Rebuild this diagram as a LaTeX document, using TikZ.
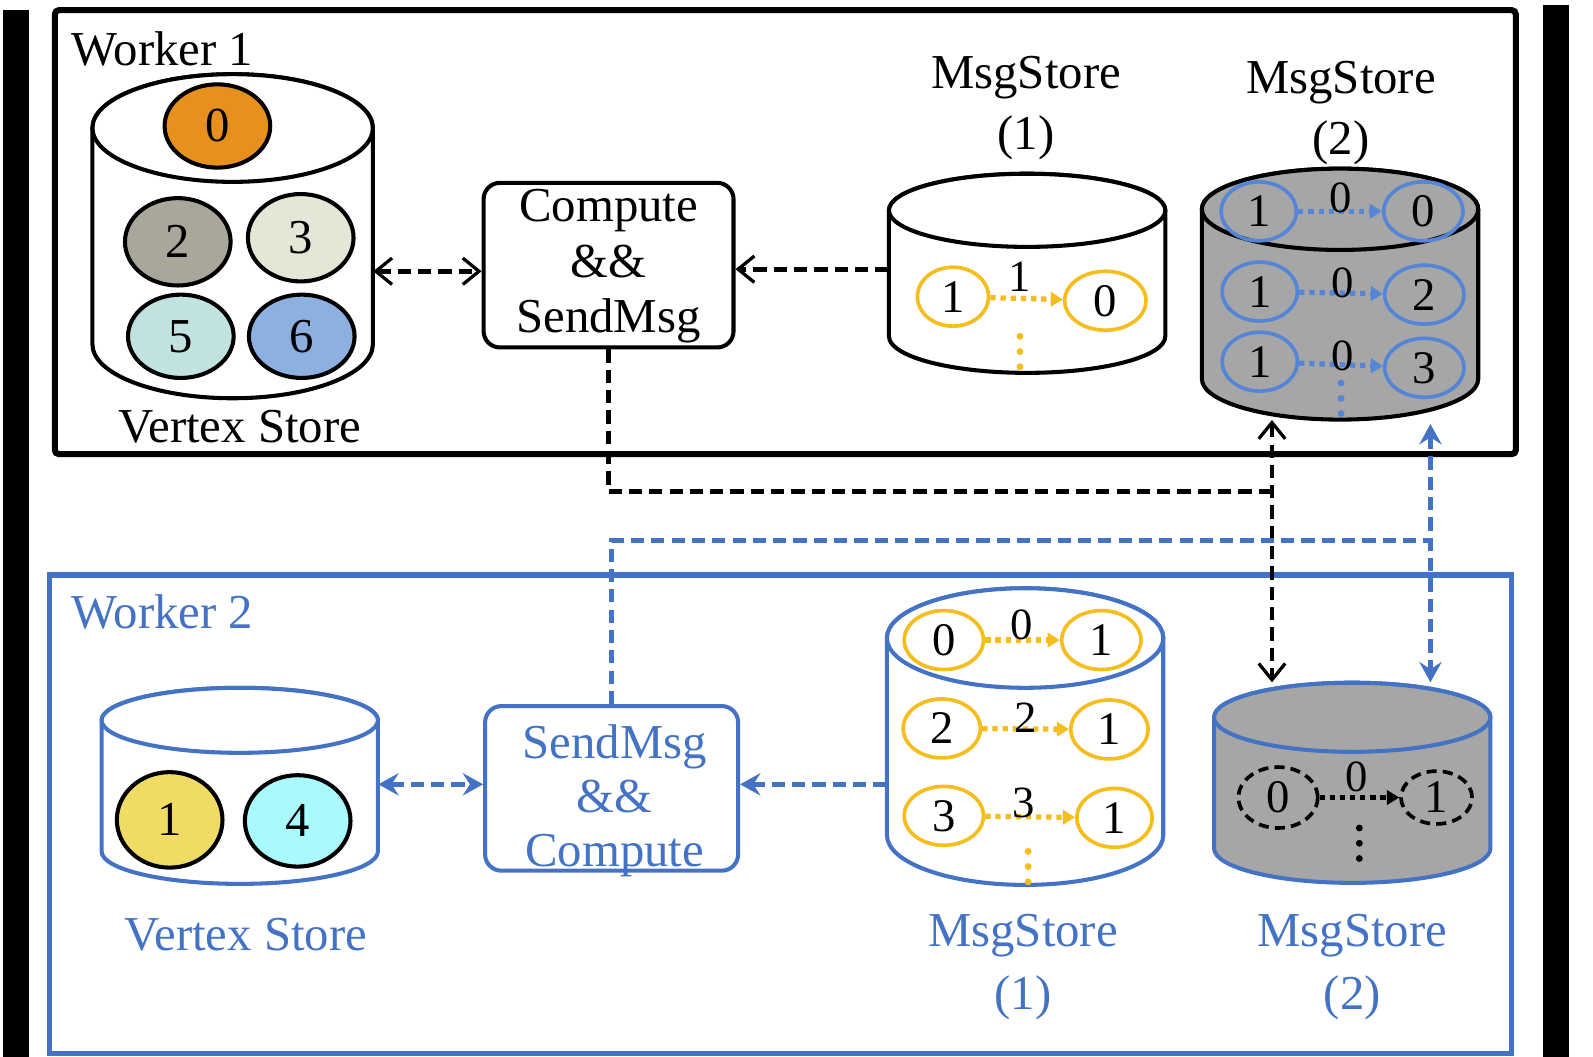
\documentclass[tikz,border=0pt]{standalone}
\usepackage{fontspec}
\setmainfont{Liberation Serif}
\usetikzlibrary{shapes.geometric,arrows.meta}
\definecolor{wblue}{HTML}{4472C4}
\definecolor{mblue}{HTML}{5585D6}
\definecolor{myel}{HTML}{F5BE1E}
\definecolor{cgrey}{HTML}{A6A6A6}
\definecolor{vorange}{HTML}{E8901E}
\definecolor{vgrey}{HTML}{A9A799}
\definecolor{vbeige}{HTML}{E6E6D6}
\definecolor{vcyan}{HTML}{C2E2E0}
\definecolor{vblue}{HTML}{8DB0E0}
\definecolor{vyel}{HTML}{F0DC64}
\definecolor{vaqua}{HTML}{A8FAFC}
\newcommand\mycyl[8]{%
  \path[fill=#7,draw=#8,line width=2pt] ({#2-#5},#3) -- ({#2-#5},#4)
    arc[start angle=180,end angle=360,x radius=#5,y radius=#6] -- ({#2+#5},#3)
    arc[start angle=0,end angle=180,x radius=#5,y radius=#6] -- cycle;
  \path[fill=#7,draw=#8,line width=2pt] (#2,#3) ellipse[x radius=#5,y radius=#6];
  \node[inner sep=0pt,minimum width={#5*1pt},minimum height={(#3-(#4)+2*#6)*0.5pt}] (#1) at (#2,{(#3+#4)/2}) {};
}
\begin{document}
\begin{tikzpicture}[x=0.5pt,y=0.5pt,
  every node/.style={font=\fontsize{24}{28}\selectfont},
  vtx/.style={ellipse,draw=black,line width=2pt,inner sep=0pt,minimum width=52pt,minimum height=41pt,font=\fontsize{24}{26}\selectfont},
  mc/.style={ellipse,line width=1.8pt,inner sep=0pt,minimum width=#1,minimum height=29pt,font=\fontsize{23}{26}\selectfont},
  mc/.default=37pt,
  lab/.style={inner sep=0pt,font=\fontsize{22}{24}\selectfont},
  box/.style={draw,rounded corners=8pt,line width=2pt,minimum width=123pt,minimum height=81pt,inner sep=0pt,align=center},
  bkdash/.style={black,line width=2.4pt,dash pattern=on 6.5pt off 3.5pt},
  bldash/.style={wblue,line width=2.4pt,dash pattern=on 6.5pt off 3.5pt},
  bktip/.style={-{Straight Barb[length=8pt,width=13pt,line width=1.6pt]}},
  bkboth/.style={{Straight Barb[length=8pt,width=13pt,line width=1.6pt]}-{Straight Barb[length=8pt,width=13pt,line width=1.6pt]}},
  bltip/.style={-{Stealth[length=10pt,width=11pt,inset=3.5pt]}},
  blboth/.style={{Stealth[length=10pt,width=11pt,inset=3.5pt]}-{Stealth[length=10pt,width=11pt,inset=3.5pt]}},
  marr/.style={line width=2.6pt,dash pattern=on 2.6pt off 2.4pt,-{Triangle[length=6pt,width=7pt]}},
  vdots/.style={line width=3.4pt,line cap=round,dash pattern=on 0pt off 7.5pt}
]
\useasboundingbox (0,0) rectangle (1568,-1040);
% side bars
\fill[black] (3,-10) rectangle (28.5,-1040);
\fill[black] (1519,-5) rectangle (1544,-1040);
% worker frames
\draw[black,line width=3pt,rounded corners=2pt] (54,-10) rectangle (1492,-447);
\draw[wblue,line width=2.5pt] (49,-566) rectangle (1488,-1037);
\node[anchor=west,inner sep=0pt] (w1) at (70,-48) {Worker 1};
\node[anchor=west,inner sep=0pt,text=wblue] (w2) at (70,-602) {Worker 2};

% ---------- Worker 1 ----------
\mycyl{vs1}{229}{-126}{-339}{138}{53}{white}{black}
\node[vtx,fill=vorange] (v0) at (214,-124) {0};
\node[vtx,fill=vgrey,minimum height=43pt] (v2) at (175,-238) {2};
\node[vtx,fill=vbeige,minimum height=43pt] (v3) at (296,-234) {3};
\node[vtx,fill=vcyan] (v5) at (178,-331) {5};
\node[vtx,fill=vblue] (v6) at (297,-331) {6};
\node (vsl1) at (236,-420) {Vertex Store};

\node[box] (cmp1) at (599,-261) {};
\node[align=center,inner sep=0pt,font=\fontsize{24}{27.5}\selectfont] (cmpt) at (599,-262) {Compute\\\&\&\\SendMsg};

\mycyl{ms11}{1011}{-207}{-331}{136}{36}{white}{black}
\node[align=center,inner sep=0pt,font=\fontsize{24}{30}\selectfont] (ms11l) at (1010,-106) {MsgStore\\(1)};
\node[mc=35pt,draw=myel] (a1) at (938,-292) {1};
\node[mc=40pt,draw=myel] (a0) at (1088,-296) {0};
\draw[myel,marr] (a1) -- (a0);
\node[lab] (al) at (1004,-272) {1};
\coordinate (ad1) at (1004,-331);
\coordinate (ad2) at (1004,-366);
\draw[myel,vdots] (ad1) -- (ad2);

\mycyl{ms21}{1319}{-206}{-373}{136}{40}{cgrey}{black}
\node[align=center,inner sep=0pt,font=\fontsize{24}{30}\selectfont] (ms21l) at (1320,-111) {MsgStore\\(2)};
\node[mc,draw=mblue] (b1) at (1239,-208) {1};
\node[mc=39pt,draw=mblue] (b0) at (1401,-208) {0};
\node[mc,draw=mblue] (c1) at (1240,-287) {1};
\node[mc=39pt,draw=mblue] (c2) at (1402,-290) {2};
\node[mc,draw=mblue] (d1) at (1240,-356) {1};
\node[mc=39pt,draw=mblue] (d3) at (1402,-362) {3};
\draw[mblue,marr] (b1) -- (b0);
\draw[mblue,marr] (c1) -- (c2);
\draw[mblue,marr] (d1) -- (d3);
\node[lab] (bl) at (1320,-195) {0};
\node[lab] (cl) at (1322,-278) {0};
\node[lab] (dl) at (1322,-350) {0};
\coordinate (bd1) at (1320,-377);
\coordinate (bd2) at (1320,-418);
\draw[mblue,vdots] (bd1) -- (bd2);

\draw[bkdash,bkboth] ([yshift=-3pt]cmp1.west -| vs1.east) -- ([yshift=-3pt]cmp1.west);
\draw[bkdash,bktip] ([yshift=-2pt]cmp1.east -| ms11.west) -- ([yshift=-2pt]cmp1.east);

% ---------- Worker 2 ----------
\mycyl{vs2}{236}{-709}{-838}{136}{32}{white}{wblue}
\node[vtx,fill=vyel,minimum height=47pt] (u1) at (167,-807) {1};
\node[vtx,fill=vaqua,minimum height=45pt] (u4) at (293,-808) {4};
\node[text=wblue] (vsl2) at (242,-920) {Vertex Store};

\node[box,draw=wblue,minimum width=124.5pt] (smc2) at (602,-776) {};
\node[align=center,inner sep=0pt,text=wblue,font=\fontsize{24}{26.5}\selectfont] (smct) at (605,-788) {SendMsg\\\&\&\\Compute};

\mycyl{ms12}{1009}{-628}{-822}{136}{49}{white}{wblue}
\node[align=center,inner sep=0pt,text=wblue,font=\fontsize{24}{31}\selectfont] (ms12l) at (1007,-952) {MsgStore\\(1)};
\node[mc=39pt,draw=myel] (e0) at (929,-630) {0};
\node[mc=39pt,draw=myel] (e1) at (1084,-630) {1};
\node[mc=38pt,draw=myel] (f2) at (927,-717) {2};
\node[mc=38pt,draw=myel] (f1) at (1092,-718) {1};
\node[mc=39pt,draw=myel] (g3) at (929,-803) {3};
\node[mc=37pt,draw=myel] (g1) at (1097,-805) {1};
\draw[myel,marr] (e0) -- (e1);
\draw[myel,marr] (f2) -- (f1);
\draw[myel,marr] (g3) -- (g1);
\node[lab] (el) at (1006,-615) {0};
\node[lab] (fl) at (1010,-706) {2};
\node[lab] (gl) at (1008,-790) {3};
\coordinate (ed1) at (1012,-838);
\coordinate (ed2) at (1012,-872);
\draw[myel,vdots] (ed1) -- (ed2);

\mycyl{ms22}{1331}{-706}{-835}{136}{34}{cgrey}{wblue}
\node[align=center,inner sep=0pt,text=wblue,font=\fontsize{24}{31}\selectfont] (ms22l) at (1331,-952) {MsgStore\\(2)};
\node[mc=39pt,draw=black,dash pattern=on 5pt off 3pt,minimum height=30pt] (h0) at (1258,-785) {0};
\node[mc=35pt,draw=black,dash pattern=on 5pt off 3pt,minimum height=26pt] (h1) at (1414,-785) {1};
\draw[black,marr] (h0) -- (h1);
\node[lab] (hl) at (1335,-765) {0};
\coordinate (hd1) at (1338,-815);
\coordinate (hd2) at (1338,-852);
\draw[black,vdots] (hd1) -- (hd2);

\draw[bldash,blboth] ([yshift=2pt]smc2.west -| vs2.east) -- ([yshift=2pt]smc2.west);
\draw[bldash,bltip] ([yshift=2pt]smc2.east -| ms12.west) -- ([yshift=2pt]smc2.east);

% ---------- cross-worker connectors ----------
\coordinate (j1) at (1252,-484);
\coordinate (j2) at (1408,-532);
\draw[bkdash] (cmp1.south) |- (j1);
\draw[bkdash,bkboth] (j1 |- ms21.south) -- (j1 |- ms22.north);
\draw[bldash] (smc2.north) |- (j2);
\draw[bldash,blboth] ([yshift=-2pt]j2 |- ms21.south) -- (j2 |- ms22.north);
\end{tikzpicture}
\end{document}
